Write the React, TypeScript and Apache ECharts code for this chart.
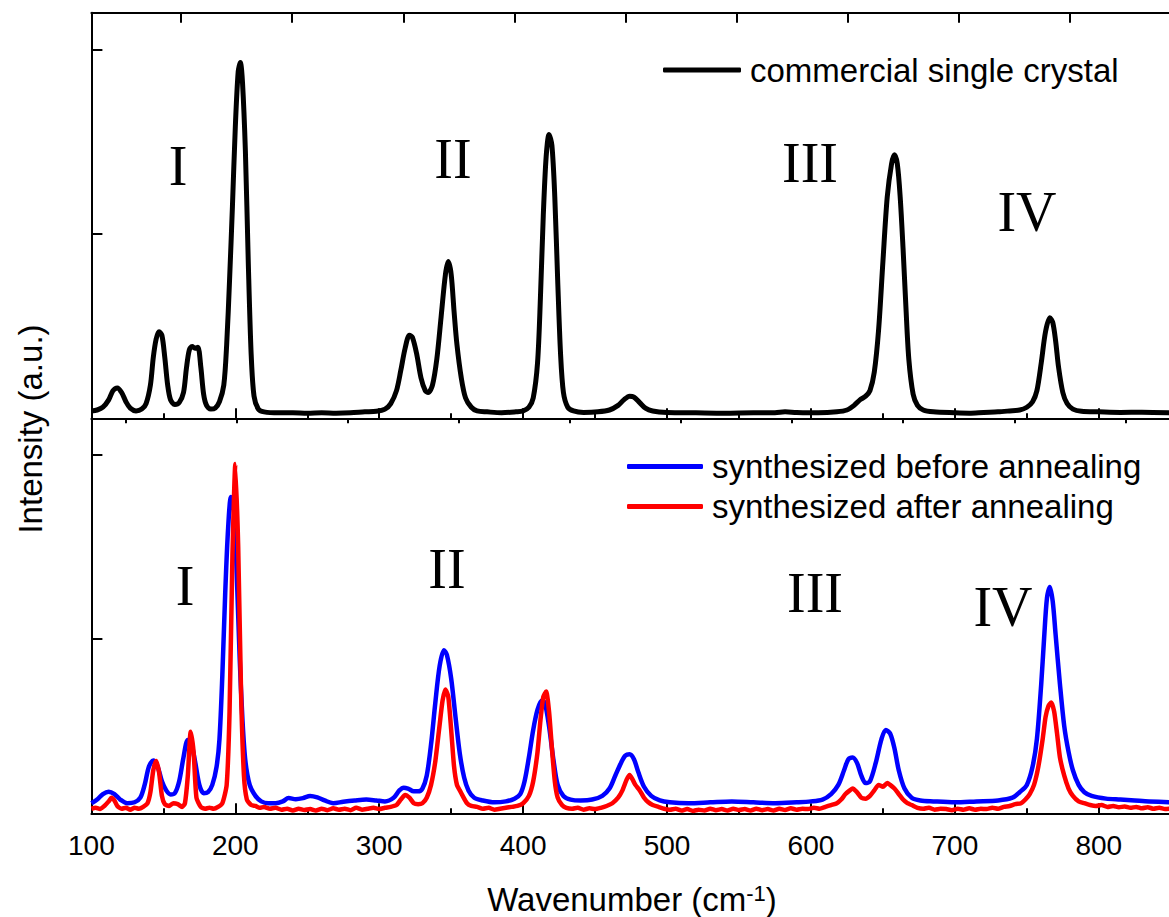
import React, { useEffect, useRef } from "react";
import * as echarts from "echarts";

// ---------------- data ----------------
const commercialSpectrum: [number, number][] = [
  [100, 0.04], [104, 0.045], [108, 0.06], [112, 0.1], [115, 0.15], [118, 0.165], [121, 0.14], [124, 0.09],
  [127, 0.055], [131, 0.04], [135, 0.05], [138, 0.08], [141, 0.18], [143, 0.33], [145, 0.43], [147, 0.47],
  [149, 0.45], [151, 0.33], [153, 0.18], [155, 0.1], [158, 0.075], [161, 0.085], [164, 0.14], [166, 0.27],
  [168, 0.37], [170, 0.39], [172, 0.38], [174, 0.385], [176, 0.28], [178, 0.13], [180, 0.07], [183, 0.05],
  [186, 0.055], [189, 0.09], [192, 0.18], [194, 0.4], [196, 0.75], [198, 1.15], [200, 1.58], [202, 1.88],
  [203.5, 1.93], [205, 1.82], [207, 1.45], [209, 0.85], [211, 0.35], [213, 0.12], [216, 0.05], [220, 0.035],
  [230, 0.03], [240, 0.03], [250, 0.028], [260, 0.03], [270, 0.028], [280, 0.03], [290, 0.035], [298, 0.038],
  [304, 0.05], [308, 0.08], [312, 0.15], [315, 0.26], [318, 0.38], [321, 0.45], [323, 0.44], [326, 0.35],
  [329, 0.22], [332, 0.15], [334, 0.14], [337, 0.18], [340, 0.32], [343, 0.55], [346, 0.78], [348, 0.85],
  [350, 0.78], [352, 0.58], [354, 0.4], [357, 0.22], [360, 0.11], [364, 0.06], [368, 0.04], [375, 0.035],
  [385, 0.03], [395, 0.035], [400, 0.04], [404, 0.06], [407, 0.11], [410, 0.3], [412, 0.65], [414, 1.1],
  [416, 1.42], [418, 1.54], [420, 1.48], [422, 1.2], [424, 0.75], [426, 0.35], [428, 0.14], [431, 0.06],
  [435, 0.04], [442, 0.032], [452, 0.035], [460, 0.045], [466, 0.07], [470, 0.1], [474, 0.12], [477, 0.115],
  [481, 0.085], [485, 0.055], [490, 0.04], [500, 0.032], [520, 0.03], [540, 0.028], [560, 0.03], [575, 0.03],
  [582, 0.035], [590, 0.032], [605, 0.03], [618, 0.035], [625, 0.045], [630, 0.07], [634, 0.1], [638, 0.12],
  [641, 0.15], [644, 0.25], [647, 0.48], [650, 0.85], [653, 1.2], [656, 1.38], [658, 1.43], [660, 1.38],
  [662, 1.2], [664, 0.92], [666, 0.6], [668, 0.32], [671, 0.13], [674, 0.07], [678, 0.045], [685, 0.035],
  [700, 0.03], [710, 0.028], [720, 0.032], [730, 0.035], [738, 0.04], [745, 0.045], [750, 0.06], [754, 0.09],
  [757, 0.15], [760, 0.3], [763, 0.47], [766, 0.545], [768, 0.52], [770, 0.42], [772, 0.28], [775, 0.14],
  [778, 0.08], [782, 0.05], [788, 0.038], [800, 0.035], [815, 0.032], [830, 0.033], [850, 0.03],
];

const beforeAnnealing: [number, number][] = [
  [100, 0.1], [104, 0.12], [108, 0.15], [112, 0.163], [116, 0.15], [120, 0.12], [125, 0.1], [130, 0.105],
  [134, 0.13], [137, 0.2], [140, 0.3], [143, 0.333], [146, 0.3], [149, 0.22], [152, 0.17], [155, 0.148],
  [158, 0.155], [161, 0.22], [164, 0.35], [167, 0.445], [169, 0.44], [172, 0.33], [175, 0.2], [178, 0.155],
  [181, 0.16], [184, 0.2], [187, 0.3], [189, 0.45], [191, 0.8], [193, 1.25], [195, 1.6], [197, 1.77],
  [199, 1.7], [201, 1.35], [203, 0.9], [205, 0.55], [207, 0.33], [210, 0.2], [214, 0.14], [218, 0.11],
  [223, 0.1], [228, 0.1], [233, 0.11], [237, 0.128], [242, 0.122], [247, 0.128], [252, 0.14], [257, 0.132],
  [262, 0.115], [268, 0.1], [275, 0.108], [283, 0.115], [291, 0.12], [298, 0.115], [304, 0.11], [310, 0.13],
  [314, 0.17], [317, 0.185], [320, 0.18], [324, 0.165], [327, 0.165], [330, 0.18], [333, 0.25], [336, 0.42],
  [339, 0.65], [342, 0.85], [345, 0.935], [347, 0.91], [350, 0.78], [353, 0.57], [356, 0.37], [359, 0.24],
  [362, 0.17], [366, 0.13], [372, 0.115], [380, 0.105], [388, 0.11], [394, 0.125], [398, 0.15], [401, 0.22],
  [404, 0.35], [407, 0.5], [410, 0.61], [413, 0.66], [415, 0.65], [418, 0.52], [421, 0.34], [424, 0.2],
  [428, 0.14], [433, 0.12], [440, 0.115], [448, 0.12], [455, 0.14], [460, 0.18], [464, 0.25], [468, 0.32],
  [471, 0.36], [474, 0.367], [477, 0.34], [480, 0.27], [484, 0.19], [489, 0.14], [495, 0.115], [502, 0.105],
  [515, 0.1], [530, 0.105], [545, 0.11], [560, 0.105], [575, 0.1], [590, 0.105], [600, 0.11], [608, 0.12],
  [614, 0.15], [619, 0.2], [623, 0.28], [626, 0.34], [629, 0.35], [632, 0.32], [635, 0.25], [638, 0.21],
  [641, 0.22], [645, 0.32], [649, 0.45], [652, 0.5], [655, 0.48], [658, 0.4], [661, 0.28], [665, 0.18],
  [670, 0.13], [676, 0.115], [685, 0.11], [700, 0.105], [715, 0.11], [730, 0.115], [740, 0.13], [745, 0.16],
  [750, 0.2], [754, 0.3], [757, 0.45], [760, 0.75], [762, 1.0], [764, 1.22], [766, 1.28], [768, 1.2],
  [770, 1.02], [773, 0.75], [776, 0.52], [779, 0.38], [782, 0.28], [786, 0.2], [790, 0.16], [795, 0.14],
  [805, 0.125], [815, 0.12], [825, 0.115], [835, 0.11], [850, 0.105],
];

const afterAnnealing: [number, number][] = [
  [100, 0.07], [103, 0.075], [106, 0.068], [109, 0.085], [112, 0.11], [114, 0.13], [116, 0.115], [118, 0.085],
  [121, 0.07], [124, 0.075], [127, 0.065], [130, 0.075], [133, 0.07], [136, 0.08], [139, 0.1], [141, 0.16],
  [143, 0.28], [145, 0.33], [147, 0.27], [149, 0.14], [151, 0.095], [154, 0.085], [157, 0.1], [160, 0.095],
  [163, 0.08], [165, 0.1], [167, 0.25], [169, 0.49], [171, 0.38], [173, 0.13], [176, 0.08], [179, 0.07],
  [182, 0.075], [185, 0.07], [188, 0.08], [191, 0.1], [194, 0.2], [196, 0.6], [198, 1.45], [200, 1.95],
  [202, 1.5], [204, 0.7], [206, 0.25], [208, 0.12], [211, 0.09], [214, 0.085], [217, 0.075], [220, 0.08],
  [224, 0.07], [228, 0.075], [232, 0.065], [236, 0.07], [240, 0.06], [244, 0.07], [248, 0.063], [252, 0.068],
  [256, 0.06], [260, 0.07], [264, 0.062], [268, 0.072], [272, 0.065], [276, 0.07], [280, 0.062], [284, 0.075],
  [288, 0.065], [292, 0.07], [296, 0.075], [300, 0.068], [304, 0.075], [308, 0.08], [312, 0.09], [315, 0.12],
  [318, 0.145], [321, 0.13], [324, 0.1], [327, 0.095], [330, 0.1], [333, 0.13], [336, 0.2], [339, 0.33],
  [342, 0.53], [344, 0.66], [346, 0.72], [348, 0.68], [350, 0.5], [352, 0.3], [354, 0.2], [356, 0.17],
  [358, 0.14], [361, 0.1], [364, 0.085], [368, 0.08], [372, 0.07], [376, 0.075], [380, 0.065], [384, 0.07],
  [388, 0.075], [392, 0.08], [396, 0.085], [400, 0.1], [404, 0.14], [407, 0.22], [410, 0.38], [412, 0.55],
  [414, 0.68], [416, 0.71], [418, 0.6], [420, 0.4], [422, 0.22], [424, 0.13], [427, 0.09], [430, 0.075],
  [434, 0.07], [438, 0.075], [442, 0.065], [446, 0.072], [450, 0.068], [454, 0.075], [458, 0.085], [462, 0.1],
  [466, 0.13], [469, 0.17], [472, 0.23], [474, 0.254], [476, 0.23], [478, 0.2], [481, 0.17], [484, 0.13],
  [487, 0.105], [490, 0.09], [494, 0.08], [498, 0.07], [502, 0.065], [506, 0.07], [510, 0.06], [514, 0.068],
  [518, 0.058], [522, 0.065], [526, 0.06], [530, 0.07], [534, 0.062], [538, 0.068], [542, 0.06], [546, 0.07],
  [550, 0.063], [554, 0.068], [558, 0.06], [562, 0.07], [566, 0.062], [570, 0.068], [574, 0.06], [578, 0.07],
  [582, 0.063], [586, 0.072], [590, 0.065], [594, 0.07], [598, 0.068], [602, 0.075], [606, 0.07], [610, 0.08],
  [614, 0.09], [618, 0.1], [621, 0.12], [624, 0.15], [627, 0.17], [629, 0.18], [632, 0.16], [635, 0.13],
  [638, 0.125], [641, 0.14], [644, 0.17], [647, 0.2], [650, 0.19], [653, 0.21], [655, 0.2], [658, 0.18],
  [661, 0.15], [664, 0.12], [667, 0.1], [670, 0.09], [674, 0.075], [678, 0.07], [682, 0.075], [686, 0.065],
  [690, 0.07], [694, 0.068], [698, 0.062], [702, 0.07], [706, 0.065], [710, 0.072], [714, 0.065], [718, 0.07],
  [722, 0.068], [726, 0.075], [730, 0.07], [734, 0.08], [738, 0.085], [742, 0.095], [746, 0.1], [749, 0.12],
  [752, 0.15], [755, 0.2], [758, 0.3], [761, 0.45], [763, 0.57], [765, 0.63], [767, 0.65], [769, 0.6],
  [771, 0.48], [773, 0.35], [776, 0.25], [779, 0.18], [782, 0.14], [786, 0.11], [790, 0.1], [794, 0.09],
  [798, 0.085], [802, 0.09], [806, 0.08], [810, 0.085], [814, 0.078], [818, 0.082], [822, 0.075], [826, 0.08],
  [830, 0.072], [834, 0.078], [838, 0.07], [842, 0.075], [846, 0.068], [850, 0.07],
];

const seriesNames = ["commercial single crystal", "synthesized before annealing", "synthesized after annealing"];
const seriesColors = ["#000000", "#0000ff", "#ff0000"];
const yTicksBottom = [1, 2];
const topAxisMajorTicks = [162.3, 239.5, 316.7, 393.9, 471.1, 548.3, 625.5, 702.7, 779.9];
const topAxisMinorTicks = [123.7, 200.9, 278.1, 355.3, 432.5, 509.7, 586.9, 664.1, 741.3, 818.5];
const bandLabels = ["I", "II", "III", "IV"];

// ---------------- layout ----------------
const SANS = "'Liberation Sans', Arial, Helvetica, sans-serif";
const SERIF = "'Liberation Serif', 'Times New Roman', serif";
const LEFT = 91.4;
const WIDTH = 1151.3; // 100 -> 900
const TOP_GRID = { top: 12.7, height: 405.6 };
const BOT_GRID = { top: 418.3, height: 395 };
const topLabelPos = [[178, 166], [453, 159], [810, 163], [1027, 212]];
const botLabelPos = [[185, 586], [447, 569], [815, 593], [1003, 607]];

const lineBlack = { color: "#000", width: 2 };

function makeOption(): any {
  const gridBase = { left: LEFT, width: WIDTH, outerBoundsMode: "none", containLabel: false, show: false };
  const xBase = {
    type: "value",
    min: 100,
    max: 900,
    interval: 100,
    axisLine: { show: true, onZero: false, lineStyle: lineBlack },
    axisTick: { show: true, inside: true, length: 10, lineStyle: lineBlack },
    minorTick: { show: true, splitNumber: 2, length: 5, lineStyle: lineBlack },
    splitLine: { show: false },
    minorSplitLine: { show: false },
    axisLabel: { show: false },
  };
  const textStyleBase = { color: "#000", fontFamily: SANS };

  const graphics: any[] = [];
  bandLabels.forEach((t, i) => {
    [topLabelPos[i], botLabelPos[i]].forEach((p) => {
      graphics.push({
        type: "text",
        x: p[0],
        y: p[1],
        style: {
          text: t,
          fontSize: 56,
          fontFamily: SERIF,
          fill: "#000",
          align: "center",
          verticalAlign: "middle",
          textAlign: "center",
          textVerticalAlign: "middle",
        },
      });
    });
  });
  graphics.push({
    type: "text",
    x: 30,
    y: 429,
    rotation: Math.PI / 2,
    style: {
      text: "Intensity (a.u.)",
      fontSize: 33,
      fontFamily: SANS,
      fill: "#000",
      align: "center",
      verticalAlign: "middle",
      textAlign: "center",
      textVerticalAlign: "middle",
    },
  });
  graphics.push({
    type: "text",
    x: 632,
    y: 899,
    style: {
      text: "{a|Wavenumber (cm}{s|-1}{a|)}",
      fontSize: 33,
      fontFamily: SANS,
      fill: "#000",
      align: "center",
      verticalAlign: "middle",
      textAlign: "center",
      textVerticalAlign: "middle",
      rich: {
        a: { fontSize: 33, fontFamily: SANS, fill: "#000", color: "#000", lineHeight: 33 },
        s: { fontSize: 22, fontFamily: SANS, fill: "#000", color: "#000", lineHeight: 22, verticalAlign: "top" },
      },
    },
  });

  const legendBase = {
    icon: "roundRect",
    padding: 0,
    selectedMode: false,
    itemHeight: 5,
    textStyle: { ...textStyleBase, fontSize: 33, lineHeight: 33, padding: [0, 0, 0, 4] },
  };

  return {
    animation: false,
    backgroundColor: "#fff",
    grid: [
      { ...gridBase, ...TOP_GRID },
      { ...gridBase, ...BOT_GRID },
      { ...gridBase, ...TOP_GRID },
    ],
    xAxis: [
      { ...xBase, gridIndex: 0, position: "bottom" },
      {
        ...xBase,
        gridIndex: 0,
        position: "top",
        minorTick: { show: false },
        axisTick: { show: true, inside: true, length: 10, lineStyle: lineBlack, customValues: topAxisMajorTicks },
      },
      {
        ...xBase,
        gridIndex: 1,
        position: "bottom",
        axisLabel: { show: true, ...textStyleBase, fontSize: 28, margin: 18, showMaxLabel: false, hideOverlap: false },
      },
      {
        ...xBase,
        gridIndex: 2,
        position: "top",
        axisLine: { show: false },
        minorTick: { show: false },
        axisTick: { show: true, inside: true, length: 5, lineStyle: lineBlack, customValues: topAxisMinorTicks },
      },
    ],
    yAxis: [
      {
        type: "value",
        gridIndex: 0,
        min: 0,
        max: 2.2,
        interval: 1,
        axisLine: { show: true, onZero: false, lineStyle: lineBlack },
        axisTick: { show: true, inside: true, length: 11, lineStyle: lineBlack },
        axisLabel: { show: false },
        splitLine: { show: false },
      },
      {
        type: "value",
        gridIndex: 1,
        min: 0.045,
        max: 2.2,
        axisLine: { show: true, onZero: false, lineStyle: lineBlack },
        axisTick: { show: true, inside: true, length: 11, lineStyle: lineBlack, customValues: yTicksBottom },
        axisLabel: { show: false },
        splitLine: { show: false },
      },
      { type: "value", gridIndex: 2, min: 0, max: 2.2, show: false },
    ],
    legend: [
      { ...legendBase, data: [seriesNames[0]], left: 663, top: 53.5, itemWidth: 78 },
      { ...legendBase, data: [seriesNames[1], seriesNames[2]], orient: "vertical", left: 627, top: 450, itemWidth: 76, itemGap: 7 },
    ],
    graphic: graphics,
    series: [
      {
        type: "line",
        name: seriesNames[0],
        xAxisIndex: 0,
        yAxisIndex: 0,
        data: commercialSpectrum,
        symbol: "none",
        showSymbol: false,
        smooth: 0.3,
        lineStyle: { color: seriesColors[0], width: 5, join: "round" },
        itemStyle: { color: seriesColors[0] },
      },
      {
        type: "line",
        name: seriesNames[1],
        xAxisIndex: 2,
        yAxisIndex: 1,
        data: beforeAnnealing,
        symbol: "none",
        showSymbol: false,
        smooth: 0.3,
        lineStyle: { color: seriesColors[1], width: 4.5, join: "round" },
        itemStyle: { color: seriesColors[1] },
      },
      {
        type: "line",
        name: seriesNames[2],
        xAxisIndex: 2,
        yAxisIndex: 1,
        data: afterAnnealing,
        symbol: "none",
        showSymbol: false,
        smooth: 0.2,
        lineStyle: { color: seriesColors[2], width: 4.5, join: "round" },
        itemStyle: { color: seriesColors[2] },
      },
    ],
  };
}

export default function App() {
  const ref = useRef<HTMLDivElement>(null);
  useEffect(() => {
    if (!ref.current) return;
    const chart = echarts.init(ref.current, null, { renderer: "svg" });
    chart.setOption(makeOption());
    return () => chart.dispose();
  }, []);
  return (
    <div
      ref={ref}
      style={{ position: "fixed", left: 0, top: 0, width: 1169, height: 917, background: "#fff" }}
    />
  );
}
